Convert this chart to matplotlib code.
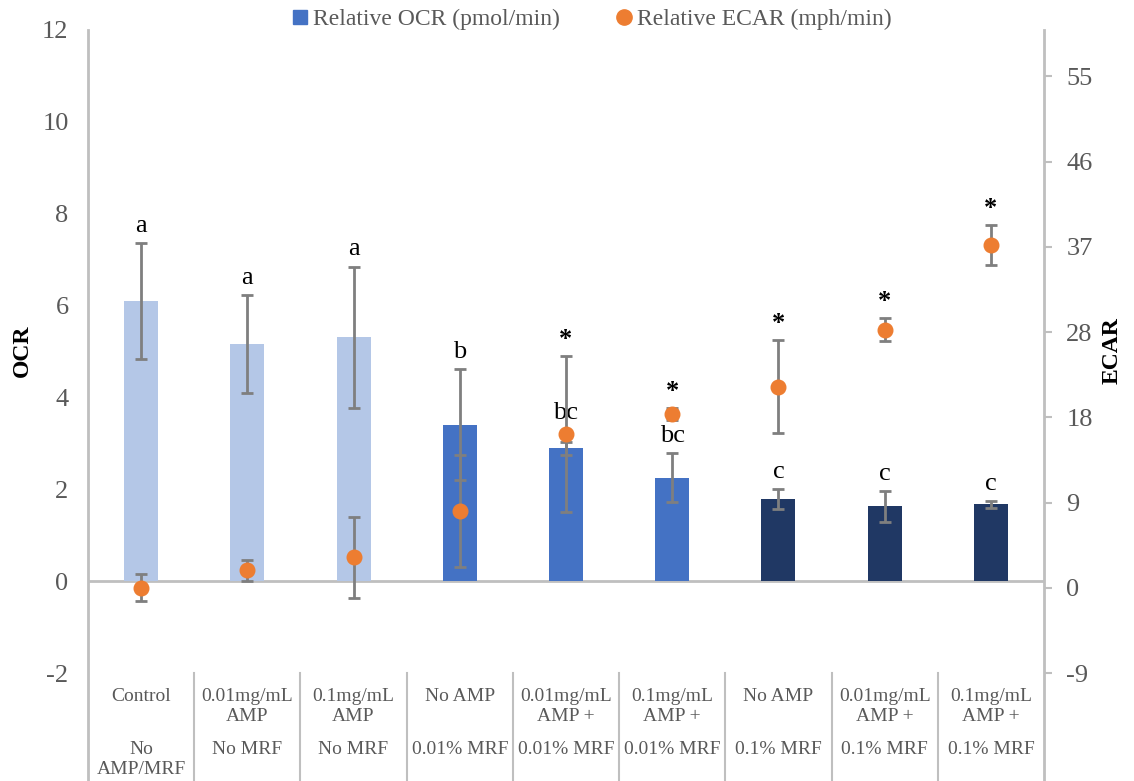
import numpy as np
import matplotlib
matplotlib.use("Agg")
from matplotlib import pyplot as plt
from matplotlib.lines import Line2D
import matplotlib.transforms as mtransforms

plt.rcParams['font.family'] = ['Liberation Serif', 'DejaVu Serif']
plt.rcParams['axes.unicode_minus'] = False

# treatments (two-level category axis)
treatment = ["Control", "0.01mg/mL\nAMP", "0.1mg/mL\nAMP", "No AMP", "0.01mg/mL\nAMP +",
             "0.1mg/mL\nAMP +", "No AMP", "0.01mg/mL\nAMP +", "0.1mg/mL\nAMP +"]
mrf = ["No\nAMP/MRF", "No MRF", "No MRF", "0.01% MRF", "0.01% MRF", "0.01% MRF",
       "0.1% MRF", "0.1% MRF", "0.1% MRF"]

# relative OCR (left axis) and ECAR (right axis), mean +/- error
ocr = [6.10, 5.16, 5.31, 3.41, 2.89, 2.25, 1.78, 1.63, 1.67]
ocr_err = [1.27, 1.07, 1.54, 1.21, 0.15, 0.53, 0.22, 0.34, 0.08]
ecar = [0.0, 1.86, 3.26, 8.28, 16.56, 18.7, 21.6, 27.74, 36.9]
ecar_err = [1.45, 1.1, 4.4, 6.0, 8.4, 0.6, 5.0, 1.24, 2.15]

# significance labels
ocr_letters = ["a", "a", "a", "b", "bc", "bc", "c", "c", "c"]
ecar_marks = ["", "", "", "", "*", "*", "*", "*", "*"]

ocr_ticks = [-2, 0, 2, 4, 6, 8, 10, 12]
ecar_ticks = [-55 / 6, 0, 55 / 6, 110 / 6, 165 / 6, 220 / 6, 275 / 6, 55]
ecar_ticklabels = ["-9", "0", "9", "18", "28", "37", "46", "55"]

# gap (points) between OCR error cap and its letter; the 5th sits clear of the ECAR dot
letter_lift = [8, 8, 8, 8, 16, 8, 8, 8, 8]

light = "#b4c7e7"
mid = "#4472c4"
dark = "#203864"
orange = "#ed7d31"
grey = "#7f7f7f"
axis_grey = "#bfbfbf"
text_grey = "#595959"
bar_colors = [light] * 3 + [mid] * 3 + [dark] * 3

fig = plt.figure(figsize=(11.34, 7.81), dpi=100)
ax = fig.add_axes([88 / 1134, 1 - 673 / 781, (1044 - 88) / 1134, 643 / 781])
ax2 = ax.twinx()

x = np.arange(len(ocr))
ax.bar(x, ocr, width=0.32, color=bar_colors, zorder=2)
ax.errorbar(x, ocr, yerr=ocr_err, fmt="none", ecolor=grey, elinewidth=2,
            capsize=4.5, capthick=2, zorder=3)
ax.axhline(0, color=axis_grey, lw=2, zorder=1)

ax.set_xlim(-0.5, len(ocr) - 0.5)
ax.set_ylim(-2, 12)
ax.set_yticks(ocr_ticks)
ax.set_xticks([])
ax.tick_params(axis="y", length=0, pad=14, labelsize=19, labelcolor=text_grey)

ax2.errorbar(x, ecar, yerr=ecar_err, fmt="none", ecolor=grey, elinewidth=2,
             capsize=4.5, capthick=2, zorder=3)
ax2.plot(x, ecar, "o", color=orange, ms=10.5, zorder=4)
ax2.set_ylim(-55 / 6, 60)
ax2.set_yticks(ecar_ticks)
ax2.set_yticklabels(ecar_ticklabels)
ax2.tick_params(axis="y", length=6, width=1.5, color=axis_grey, pad=10,
                labelsize=19, labelcolor=text_grey)

for a in (ax, ax2):
    for s in a.spines.values():
        s.set_visible(False)

# letters above OCR error bars, asterisks above ECAR error bars
for i in x:
    ax.annotate(ocr_letters[i], (i, ocr[i] + ocr_err[i]), xytext=(0, letter_lift[i]),
                textcoords="offset points", ha="center", va="baseline", fontsize=19)
    if ecar_marks[i]:
        ax2.annotate(ecar_marks[i], (i, ecar[i] + ecar_err[i]), xytext=(0, 12),
                     textcoords="offset points", ha="center", va="center",
                     fontsize=19, fontweight="bold")

# axis lines and category separators running down through the label rows
bt = mtransforms.blended_transform_factory(ax.transData, fig.transFigure)
y_top = 1 - 30 / 781
y_plot_bottom = 1 - 673 / 781
for xb in (-0.5, len(ocr) - 0.5):
    ax.add_line(Line2D([xb, xb], [0, y_top], transform=bt, color=axis_grey, lw=2,
                       clip_on=False))
for xb in np.arange(0.5, len(ocr) - 0.5):
    ax.add_line(Line2D([xb, xb], [0, y_plot_bottom], transform=bt, color=axis_grey,
                       lw=1.5, clip_on=False))

for i in x:
    ax.text(i, 1 - 688 / 781, treatment[i], transform=bt, ha="center", va="top",
            fontsize=14, color=text_grey, linespacing=1.25)
    ax.text(i, 1 - 741 / 781, mrf[i], transform=bt, ha="center", va="top",
            fontsize=14, color=text_grey, linespacing=1.22)

fig.text(22 / 1134, 1 - 351 / 781, "OCR", rotation=90, ha="center", va="center",
         fontsize=17, fontweight="bold")
fig.text(1112 / 1134, 1 - 351 / 781, "ECAR", rotation=90, ha="center", va="center",
         fontsize=17, fontweight="bold")

handles = [Line2D([], [], ls="none", marker="s", color=mid, ms=10),
           Line2D([], [], ls="none", marker="o", color=orange, ms=11)]
fig.legend(handles, ["Relative OCR (pmol/min)", "Relative ECAR (mph/min)"],
           loc="center", bbox_to_anchor=(590 / 1134, 1 - 19 / 781), ncol=2,
           frameon=False, fontsize=17, handletextpad=0.05, columnspacing=2.2,
           handlelength=1.0, labelcolor=text_grey)

fig.savefig("out.png", dpi=100)
